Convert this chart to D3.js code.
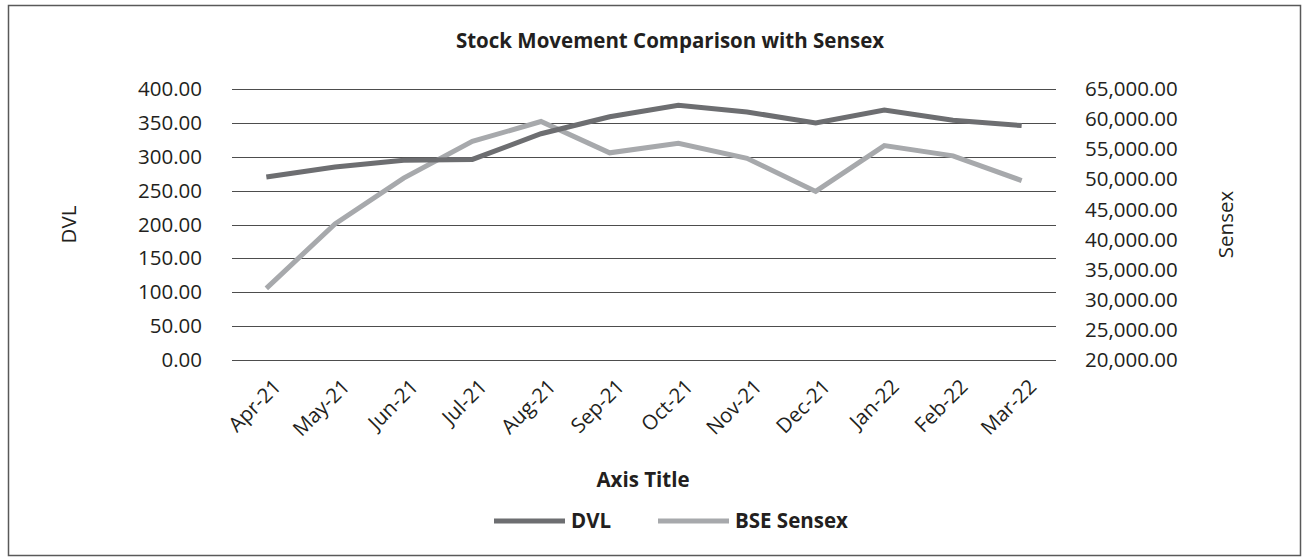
<!DOCTYPE html>
<html>
<head>
    <title>Stock Movement Comparison with Sensex</title>
    <script src="https://d3js.org/d3.v7.min.js"></script>
    <style>
        body { margin: 0; background: #fff; }
        text { font-family: "Open Sans", "Noto Sans", sans-serif; fill: #231f20; }
    </style>
</head>
<body>
    <div id="chart"></div>
    <script>
        const months = ["Apr-21", "May-21", "Jun-21", "Jul-21", "Aug-21", "Sep-21",
                        "Oct-21", "Nov-21", "Dec-21", "Jan-22", "Feb-22", "Mar-22"];
        const dvl = [270, 285, 295, 296, 334, 359, 376, 366, 350, 369, 354, 346];
        const sensex = [31900, 42600, 50200, 56300, 59600, 54400, 56000, 53500, 48000, 55600, 53900, 49800];
        const leftTicks = [0, 50, 100, 150, 200, 250, 300, 350, 400];
        const rightTicks = [20000, 25000, 30000, 35000, 40000, 45000, 50000, 55000, 60000, 65000];

        const W = 1303, H = 557;
        const plotL = 232, plotR = 1056, plotT = 89, plotB = 360;
        const fs = "20.5px";

        const svg = d3.select("#chart").append("svg")
            .attr("width", W).attr("height", H);

        // outer frame
        svg.append("rect")
            .attr("x", 8.5).attr("y", 5.5)
            .attr("width", 1292).attr("height", 550)
            .attr("fill", "#fff").attr("stroke", "#595959").attr("stroke-width", 1.5);

        const x = d3.scaleBand().domain(months).range([plotL, plotR]);
        const cx = d => x(d) + x.bandwidth() / 2;
        const yL = d3.scaleLinear().domain([0, 400]).range([plotB, plotT]);
        const yR = d3.scaleLinear().domain([20000, 65000]).range([plotB, plotT]);

        // gridlines
        svg.append("g").selectAll("line")
            .data(leftTicks).enter().append("line")
            .attr("x1", plotL).attr("x2", plotR)
            .attr("y1", d => Math.round(yL(d)) + 0.5)
            .attr("y2", d => Math.round(yL(d)) + 0.5)
            .attr("stroke", "#4d4d4d").attr("stroke-width", 1);

        // left axis
        const axL = svg.append("g")
            .attr("transform", `translate(${plotL},0)`)
            .call(d3.axisLeft(yL).tickValues(leftTicks).tickSize(0).tickPadding(30)
                .tickFormat(d3.format(".2f")));
        axL.select(".domain").remove();
        axL.selectAll("text").style("font-size", fs).style("font-family", null).attr("fill", "#231f20");

        // right axis
        const axR = svg.append("g")
            .attr("transform", `translate(${plotR},0)`)
            .call(d3.axisRight(yR).tickValues(rightTicks).tickSize(0).tickPadding(29)
                .tickFormat(d3.format(",.2f")));
        axR.select(".domain").remove();
        axR.selectAll("text").style("font-size", fs).style("font-family", null).attr("fill", "#231f20");

        // x labels
        const axX = svg.append("g")
            .attr("transform", `translate(0,${plotB})`)
            .call(d3.axisBottom(x).tickSize(0).tickPadding(0));
        axX.select(".domain").remove();
        axX.selectAll("text")
            .style("font-size", fs).style("font-family", null).attr("fill", "#231f20")
            .attr("text-anchor", "end")
            .attr("dy", null)
            .attr("transform", "translate(16,28) rotate(-45)");

        // lines
        const lineL = d3.line().x((d, i) => cx(months[i])).y(d => yL(d));
        const lineR = d3.line().x((d, i) => cx(months[i])).y(d => yR(d));

        svg.append("path").datum(sensex)
            .attr("d", lineR).attr("fill", "none")
            .attr("stroke", "#a7a9ac").attr("stroke-width", 5);
        svg.append("path").datum(dvl)
            .attr("d", lineL).attr("fill", "none")
            .attr("stroke", "#6d6e71").attr("stroke-width", 5);

        // titles
        svg.append("text").attr("x", 670).attr("y", 48)
            .attr("text-anchor", "middle").style("font-size", "20.5px").style("font-weight", "bold")
            .text("Stock Movement Comparison with Sensex");

        svg.append("text").attr("x", 643).attr("y", 487)
            .attr("text-anchor", "middle").style("font-size", fs).style("font-weight", "bold")
            .text("Axis Title");

        svg.append("text")
            .attr("transform", `translate(76,${(plotT + plotB) / 2}) rotate(-90)`)
            .attr("text-anchor", "middle").style("font-size", fs)
            .text("DVL");

        svg.append("text")
            .attr("transform", `translate(1233,${(plotT + plotB) / 2}) rotate(-90)`)
            .attr("text-anchor", "middle").style("font-size", fs)
            .text("Sensex");

        // legend
        const legend = [
            { name: "DVL", color: "#6d6e71", x: 494 },
            { name: "BSE Sensex", color: "#a7a9ac", x: 658 }
        ];
        const lg = svg.append("g").selectAll("g").data(legend).enter().append("g");
        lg.append("line")
            .attr("x1", d => d.x).attr("x2", d => d.x + 71)
            .attr("y1", 521).attr("y2", 521)
            .attr("stroke", d => d.color).attr("stroke-width", 5);
        lg.append("text")
            .attr("x", d => d.x + 77).attr("y", 528)
            .style("font-size", fs).style("font-weight", "bold")
            .text(d => d.name);
    </script>
</body>
</html>
